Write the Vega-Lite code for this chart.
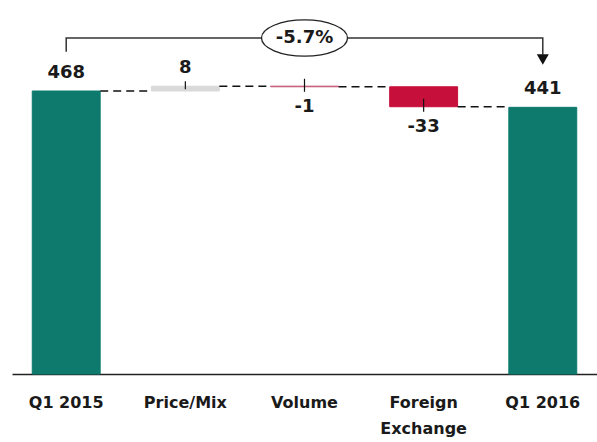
{
  "$schema": "https://vega.github.io/schema/vega-lite/v6.json",
  "width": 585,
  "height": 374,
  "autosize": {"type": "none"},
  "padding": {"left": 12, "top": 0, "right": 0, "bottom": 68},
  "background": "white",
  "config": {"view": {"stroke": null}, "font": "DejaVu Sans"},
  "datasets": {
    "bars": [
      {"cat": "Q1 2015", "start": 0, "end": 468, "label": "468", "kind": "total"},
      {"cat": "Price/Mix", "start": 468, "end": 476, "label": "8", "kind": "up"},
      {"cat": "Volume", "start": 476, "end": 475, "label": "-1", "kind": "vol"},
      {"cat": "Foreign Exchange", "start": 475, "end": 442, "label": "-33", "kind": "fx"},
      {"cat": "Q1 2016", "start": 0, "end": 441, "label": "441", "kind": "total"}
    ],
    "links": [
      {"from": "Q1 2015", "to": "Price/Mix", "level": 468},
      {"from": "Price/Mix", "to": "Volume", "level": 476},
      {"from": "Volume", "to": "Foreign Exchange", "level": 475},
      {"from": "Foreign Exchange", "to": "Q1 2016", "level": 442}
    ],
    "bracket": [
      {"x": "Q1 2015", "y": 534, "o": 1},
      {"x": "Q1 2015", "y": 555.6, "o": 2},
      {"x": "Q1 2016", "y": 555.6, "o": 3},
      {"x": "Q1 2016", "y": 529, "o": 4}
    ],
    "change": [
      {"x": "Volume", "y": 555.6, "text": "-5.7%"}
    ],
    "arrow": [
      {"x": "Q1 2016", "y": 520}
    ]
  },
  "layer": [
    {
      "data": {"name": "bars"},
      "mark": {"type": "bar", "strokeWidth": 1},
      "encoding": {
        "x": {
          "field": "cat", "type": "nominal",
          "scale": {"domain": ["Q1 2015", "Price/Mix", "Volume", "Foreign Exchange", "Q1 2016"], "paddingInner": 0.43, "paddingOuter": 0.17},
          "axis": {
            "title": null, "labelAngle": 0, "ticks": false, "tickSize": 0,
            "labelPadding": 20, "labelFontSize": 16, "labelFontWeight": "bold",
            "labelColor": "#1a1a1a", "labelFont": "DejaVu Sans", "labelLimit": 0,
            "labelLineHeight": 26,
            "labelExpr": "datum.value == 'Foreign Exchange' ? ['Foreign', 'Exchange'] : datum.value",
            "domainColor": "#222222", "domainWidth": 1.5
          }
        },
        "y": {"field": "start", "type": "quantitative", "scale": {"domain": [0, 618.5], "nice": false}, "axis": null},
        "y2": {"field": "end"},
        "color": {
          "field": "kind", "type": "nominal",
          "scale": {"domain": ["total", "up", "vol", "fx"], "range": ["#0D7A6D", "#D9D9D9", "#C75B7A", "#C70F3B"]},
          "legend": null
        },
        "stroke": {
          "field": "kind", "type": "nominal",
          "scale": {"domain": ["total", "up", "vol", "fx"], "range": ["#0D7A6D", "#D9D9D9", "#C75B7A", "#C70F3B"]},
          "legend": null
        }
      }
    },
    {
      "data": {"name": "links"},
      "mark": {"type": "rule", "xOffset": 34, "x2Offset": -34, "strokeDash": [8, 5], "strokeWidth": 1.5, "color": "#111111"},
      "encoding": {
        "x": {"field": "from", "type": "nominal"},
        "x2": {"field": "to"},
        "y": {"field": "level", "type": "quantitative"}
      }
    },
    {
      "data": {"name": "bars"},
      "transform": [{"filter": "datum.kind == 'up'"}],
      "mark": {"type": "rule", "yOffset": 3, "y2Offset": -5, "strokeWidth": 1.2, "color": "#111111"},
      "encoding": {
        "x": {"field": "cat", "type": "nominal"},
        "y": {"field": "end", "type": "quantitative"},
        "y2": {"field": "end"}
      }
    },
    {
      "data": {"name": "bars"},
      "transform": [{"filter": "datum.kind == 'vol' || datum.kind == 'fx'"}],
      "mark": {"type": "rule", "yOffset": -8, "y2Offset": 5, "strokeWidth": 1.2, "color": "#111111"},
      "encoding": {
        "x": {"field": "cat", "type": "nominal"},
        "y": {"field": "end", "type": "quantitative"},
        "y2": {"field": "end"}
      }
    },
    {
      "data": {"name": "bars"},
      "transform": [{"filter": "datum.end >= datum.start"}],
      "mark": {"type": "text", "dy": -18, "fontSize": 18, "fontWeight": "bold", "color": "#1a1a1a", "font": "DejaVu Sans"},
      "encoding": {
        "x": {"field": "cat", "type": "nominal"},
        "y": {"field": "end", "type": "quantitative"},
        "text": {"field": "label"}
      }
    },
    {
      "data": {"name": "bars"},
      "transform": [{"filter": "datum.end < datum.start"}],
      "mark": {"type": "text", "dy": 20, "fontSize": 18, "fontWeight": "bold", "color": "#1a1a1a", "font": "DejaVu Sans"},
      "encoding": {
        "x": {"field": "cat", "type": "nominal"},
        "y": {"field": "end", "type": "quantitative"},
        "text": {"field": "label"}
      }
    },
    {
      "data": {"name": "bracket"},
      "mark": {"type": "line", "strokeWidth": 1.5, "color": "#333333", "strokeCap": "square"},
      "encoding": {
        "x": {"field": "x", "type": "nominal"},
        "y": {"field": "y", "type": "quantitative"},
        "order": {"field": "o"}
      }
    },
    {
      "data": {"name": "change"},
      "mark": {
        "type": "point", "filled": true, "opacity": 1, "fill": "white", "stroke": "#222222", "strokeWidth": 1.3,
        "shape": "M-1,0A1,0.42,0,1,1,1,0A1,0.42,0,1,1,-1,0Z", "size": 7396
      },
      "encoding": {
        "x": {"field": "x", "type": "nominal"},
        "y": {"field": "y", "type": "quantitative"}
      }
    },
    {
      "data": {"name": "change"},
      "mark": {"type": "text", "fontSize": 18, "fontWeight": "bold", "color": "#1a1a1a", "font": "DejaVu Sans"},
      "encoding": {
        "x": {"field": "x", "type": "nominal"},
        "y": {"field": "y", "type": "quantitative"},
        "text": {"field": "text"}
      }
    },
    {
      "data": {"name": "arrow"},
      "mark": {"type": "point", "shape": "triangle-down", "filled": true, "opacity": 1, "size": 144, "color": "#111111"},
      "encoding": {
        "x": {"field": "x", "type": "nominal"},
        "y": {"field": "y", "type": "quantitative"}
      }
    }
  ]
}
